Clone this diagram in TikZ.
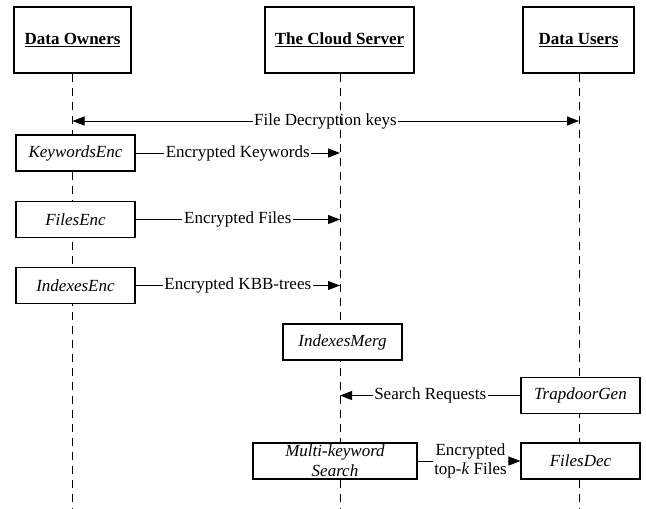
\documentclass[tikz,border=0pt]{standalone}
\usepackage{fontspec}
\setmainfont{Liberation Serif}
\usetikzlibrary{arrows.meta,calc}
\begin{document}
\begin{tikzpicture}[x=1pt,y=-1pt,
  font=\fontsize{17}{20}\selectfont,
  header/.style={draw, line width=1.1pt, fill=white, minimum height=66pt, inner sep=0pt},
  procbox/.style={draw, line width=1.1pt, fill=white, minimum height=36pt, inner sep=0pt, font=\fontsize{17}{20}\selectfont\itshape},
  lifeline/.style={line width=0.9pt, dash pattern=on 8pt off 6pt},
  msg/.style={line width=0.9pt},
  msgarrow/.style={line width=0.9pt, -{Triangle[length=12pt,width=9pt]}},
  msglabel/.style={inner sep=1.5pt, align=center, font=\fontsize{17}{17}\selectfont}]
\useasboundingbox (0,0) rectangle (646,509);

% participants
\node[header, minimum width=117pt] (owners) at (72.5,40) {\underline{\textbf{Data Owners}}};
\node[header, minimum width=149pt] (cloud) at (339.5,40) {\underline{\textbf{The Cloud Server}}};
\node[header, minimum width=111pt] (users) at (578.5,40) {\underline{\textbf{Data Users}}};

% ends of the lifelines
\coordinate (ownersEnd) at (72.5,509);
\coordinate (cloudEnd) at (340,509);
\coordinate (usersEnd) at (579,509);
\draw[lifeline] (owners.south) -- (ownersEnd);
\draw[lifeline] (cloud.south -| cloudEnd) -- (cloudEnd);
\draw[lifeline] (users.south -| usersEnd) -- (usersEnd);

% points on the lifelines where messages end
\coordinate (keyL) at (72.5,121);
\coordinate (keyR) at (579,121);
\coordinate (kwEnd) at (340,153);
\coordinate (fEnd) at (340,219.5);
\coordinate (iEnd) at (340,285.5);
\coordinate (srEnd) at (340,395.5);

% activities
\node[procbox, minimum width=119pt] (kwenc) at (75.5,153) {KeywordsEnc};
\node[procbox, minimum width=119pt] (fenc) at (75.5,219.5) {FilesEnc};
\node[procbox, minimum width=119pt] (ienc) at (75.5,285.5) {IndexesEnc};
\node[procbox, minimum width=119pt] (imerg) at (342.5,342) {IndexesMerg};
\node[procbox, minimum width=119pt] (trap) at (580.5,395.5) {TrapdoorGen};
\node[procbox, minimum width=164pt, align=center, font=\fontsize{17}{20}\selectfont\itshape] (mks) at (335,461) {Multi-keyword\\Search};
\node[procbox, minimum width=119pt] (fdec) at (580.5,461) {FilesDec};

% messages
\node[msglabel] (lkey) at (325.5,121) {File Decryption keys};
\draw[msg, {Triangle[length=12pt,width=9pt]}-] (keyL) -- (lkey.west);
\draw[msgarrow] (lkey.east) -- (keyR);

\node[msglabel] (lkw) at ($(kwenc.east)!0.5!(kwEnd)$) {Encrypted Keywords};
\draw[msg] (kwenc.east) -- (lkw.west);
\draw[msgarrow] (lkw.east) -- (kwEnd);

\node[msglabel] (lf) at ($(fenc.east)!0.5!(fEnd)$) {Encrypted Files};
\draw[msg] (fenc.east) -- (lf.west);
\draw[msgarrow] (lf.east) -- (fEnd);

\node[msglabel] (li) at ($(ienc.east)!0.5!(iEnd)$) {Encrypted KBB-trees};
\draw[msg] (ienc.east) -- (li.west);
\draw[msgarrow] (li.east) -- (iEnd);

\node[msglabel] (lsr) at ($(trap.west)!0.5!(srEnd)$) {Search Requests};
\draw[msg] (trap.west) -- (lsr.east);
\draw[msgarrow] (lsr.west) -- (srEnd);

\node[msglabel, inner sep=1pt, font=\fontsize{17}{19}\selectfont] (ltop) at (470.5,461) {Encrypted\\top-\textit{k} Files};
\draw[msg] (mks.east) -- (ltop.west);
\draw[msgarrow] (ltop.east) -- (fdec.west);
\end{tikzpicture}
\end{document}
